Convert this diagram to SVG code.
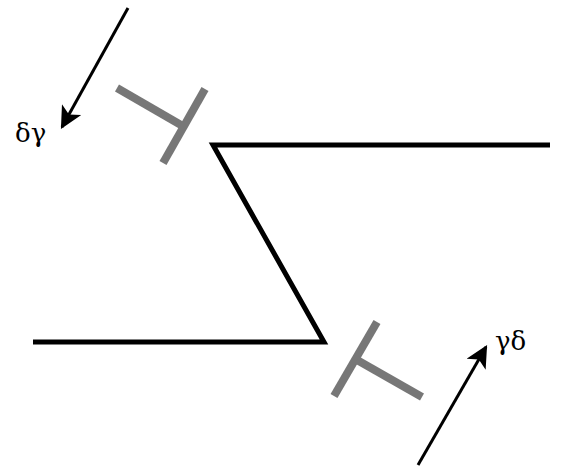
<svg xmlns="http://www.w3.org/2000/svg" width="567" height="468" viewBox="0 0 567 468">
<defs>
<style>
.z{fill:none;stroke:#000;stroke-width:5;stroke-linejoin:miter}
.t{stroke:#777;stroke-width:8;stroke-linecap:butt}
.a{stroke:#000;stroke-width:3}
.lbl{font-family:"DejaVu Serif","Liberation Serif",serif;font-size:26px;fill:#000}
</style>
<marker id="ah2" viewBox="0 0 10 10" refX="9" refY="5" markerWidth="26" markerHeight="22" markerUnits="userSpaceOnUse" orient="auto">
<path d="M0,0 L10,5 L0,10 L2.5,5 z" fill="#000"/>
</marker>
</defs>
<rect width="567" height="468" fill="#fff"/>
<g id="membrane">
<path class="z" d="M550,145 L213,145 L324,342 L33,342"/>
</g>
<g id="blocker-top">
<line class="t" x1="117" y1="88" x2="181" y2="125"/>
<line class="t" x1="205" y1="89" x2="163" y2="163"/>
</g>
<g id="blocker-bottom">
<line class="t" x1="377" y1="322" x2="334" y2="396"/>
<line class="t" x1="357" y1="360" x2="422" y2="397"/>
</g>
<g id="connectors">
<line class="a" x1="128" y1="8" x2="62" y2="127" marker-end="url(#ah2)"/>
<line class="a" x1="418" y1="465" x2="486" y2="347" marker-end="url(#ah2)"/>
</g>
<g id="label-dg"><text class="lbl" x="15" y="142">δγ</text></g>
<g id="label-gd"><text class="lbl" x="495" y="350">γδ</text></g>
</svg>
